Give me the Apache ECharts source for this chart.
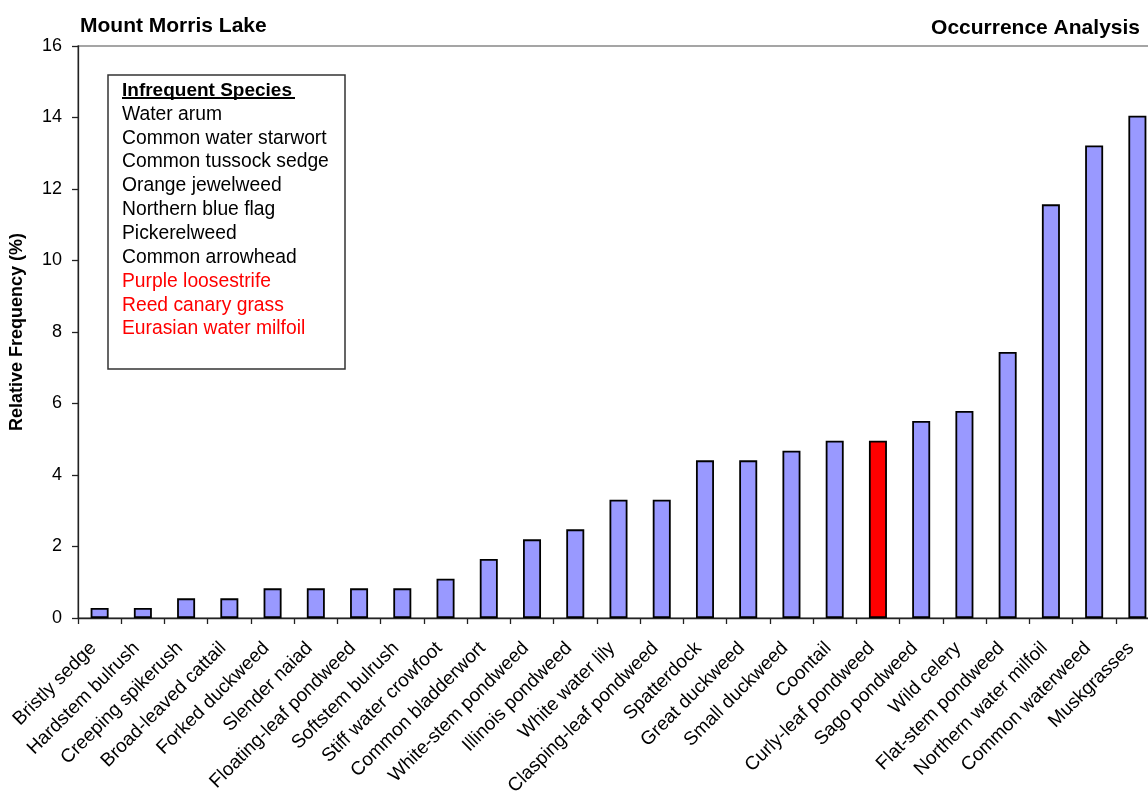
<!DOCTYPE html>
<html>
<head>
<meta charset="utf-8">
<title>Mount Morris Lake – Occurrence Analysis</title>
<script src="https://cdn.jsdelivr.net/npm/echarts@6/dist/echarts.min.js"></script>
<style>
  html, body { margin: 0; padding: 0; background: #fff; overflow: hidden; }
  /* the plot runs a little past the right edge of the window */
  #chart { width: 1162px; height: 794px; }
</style>
</head>
<body>
<div id="chart"></div>
<script>
// Species, ordered by relative frequency of occurrence
const species = [
  'Bristly sedge', 'Hardstem bulrush', 'Creeping spikerush', 'Broad-leaved cattail',
  'Forked duckweed', 'Slender naiad', 'Floating-leaf pondweed', 'Softstem bulrush',
  'Stiff water crowfoot', 'Common bladderwort', 'White-stem pondweed', 'Illinois pondweed',
  'White water lily', 'Clasping-leaf pondweed', 'Spatterdock', 'Great duckweed',
  'Small duckweed', 'Coontail', 'Curly-leaf pondweed', 'Sago pondweed', 'Wild celery',
  'Flat-stem pondweed', 'Northern water milfoil', 'Common waterweed', 'Muskgrasses'
];

// Relative frequency (%)
const frequency = [
  0.28, 0.28, 0.55, 0.55, 0.83, 0.83, 0.83, 0.83, 1.10, 1.65, 2.20, 2.48,
  3.31, 3.31, 4.41, 4.41, 4.68, 4.96, 4.96, 5.51, 5.79, 7.44, 11.57, 13.22, 14.05
];

// Invasive species highlighted in red
const invasiveBars = ['Curly-leaf pondweed'];

// Species found too rarely to chart
const infrequentSpecies = [
  'Water arum', 'Common water starwort', 'Common tussock sedge', 'Orange jewelweed',
  'Northern blue flag', 'Pickerelweed', 'Common arrowhead',
  'Purple loosestrife', 'Reed canary grass', 'Eurasian water milfoil'
];
const invasiveInfrequent = ['Purple loosestrife', 'Reed canary grass', 'Eurasian water milfoil'];

const yTicks = [0, 2, 4, 6, 8, 10, 12, 14, 16];

const FONT = 'Liberation Sans, Arial, Helvetica, sans-serif';
const BAR_BLUE = '#9999FF';
const BAR_RED = '#FF0000';
const CHART_W = 1162, VIEW_W = 1148;

// Boxed list of infrequent species
const boxX = 108, boxY = 75, boxW = 237, boxH = 294;
const textX = 122, firstLineY = 90.5, lineStep = 23.86;
const boxChildren = [
  {
    type: 'rect',
    shape: { x: boxX, y: boxY, width: boxW, height: boxH },
    style: { fill: '#fff', stroke: '#333', lineWidth: 1.5 }
  },
  {
    type: 'text',
    style: {
      x: textX, y: firstLineY, text: 'Infrequent Species',
      font: 'bold 19px ' + FONT, fill: '#000',
      textAlign: 'left', textVerticalAlign: 'middle'
    }
  },
  {
    type: 'line',
    shape: { x1: textX, y1: 98, x2: 295, y2: 98 },
    style: { stroke: '#000', lineWidth: 2 }
  }
];
infrequentSpecies.forEach(function (name, i) {
  boxChildren.push({
    type: 'text',
    style: {
      x: textX, y: firstLineY + (i + 1) * lineStep, text: name,
      font: '19.3px ' + FONT,
      fill: invasiveInfrequent.indexOf(name) >= 0 ? '#FF0000' : '#000',
      textAlign: 'left', textVerticalAlign: 'middle'
    }
  });
});

const chart = echarts.init(document.getElementById('chart'), null, { renderer: 'canvas' });

chart.setOption({
  backgroundColor: '#fff',
  animation: false,
  title: [
    {
      text: 'Mount Morris Lake', left: 80, top: 16, padding: 0,
      textStyle: { fontFamily: FONT, fontWeight: 'bold', fontSize: 21, color: '#000' }
    },
    {
      text: 'Occurrence Analysis', right: CHART_W - VIEW_W + 8, top: 18, padding: 0,
      textStyle: { fontFamily: FONT, fontWeight: 'bold', fontSize: 21, color: '#000' }
    }
  ],
  grid: {
    left: 78, top: 46, width: 1081, height: 572,
    containLabel: false, outerBoundsMode: 'none',
    show: true, borderColor: '#888', borderWidth: 1.5, backgroundColor: 'transparent'
  },
  xAxis: {
    type: 'category',
    data: species,
    boundaryGap: true,
    axisLine: { show: true, lineStyle: { color: '#222', width: 1.3 } },
    axisTick: { show: true, interval: 0, length: 6, lineStyle: { color: '#222', width: 1.3 } },
    axisLabel: {
      interval: 0, rotate: 45, margin: 21, padding: [0, 9, 0, 0],
      fontFamily: FONT, fontSize: 19, color: '#000'
    },
    splitLine: { show: false }
  },
  yAxis: {
    type: 'value',
    min: yTicks[0], max: yTicks[yTicks.length - 1], interval: 2,
    name: 'Relative Frequency (%)',
    nameLocation: 'middle', nameGap: 52, nameRotate: 90,
    nameTextStyle: { fontFamily: FONT, fontWeight: 'bold', fontSize: 18, color: '#000' },
    axisLine: { show: true, lineStyle: { color: '#222', width: 1.3 } },
    axisTick: { show: true, length: 6, lineStyle: { color: '#222', width: 1.3 } },
    axisLabel: { margin: 16, fontFamily: FONT, fontSize: 18, color: '#000' },
    splitLine: { show: false }
  },
  series: [
    {
      type: 'bar',
      barWidth: 18,
      data: frequency.map(function (v, i) {
        const red = invasiveBars.indexOf(species[i]) >= 0;
        return {
          value: v,
          itemStyle: { color: red ? BAR_RED : BAR_BLUE, borderColor: '#000', borderWidth: 1.8 }
        };
      })
    }
  ],
  graphic: [
    { type: 'group', children: boxChildren, z: 100 }
  ]
});
</script>
</body>
</html>
